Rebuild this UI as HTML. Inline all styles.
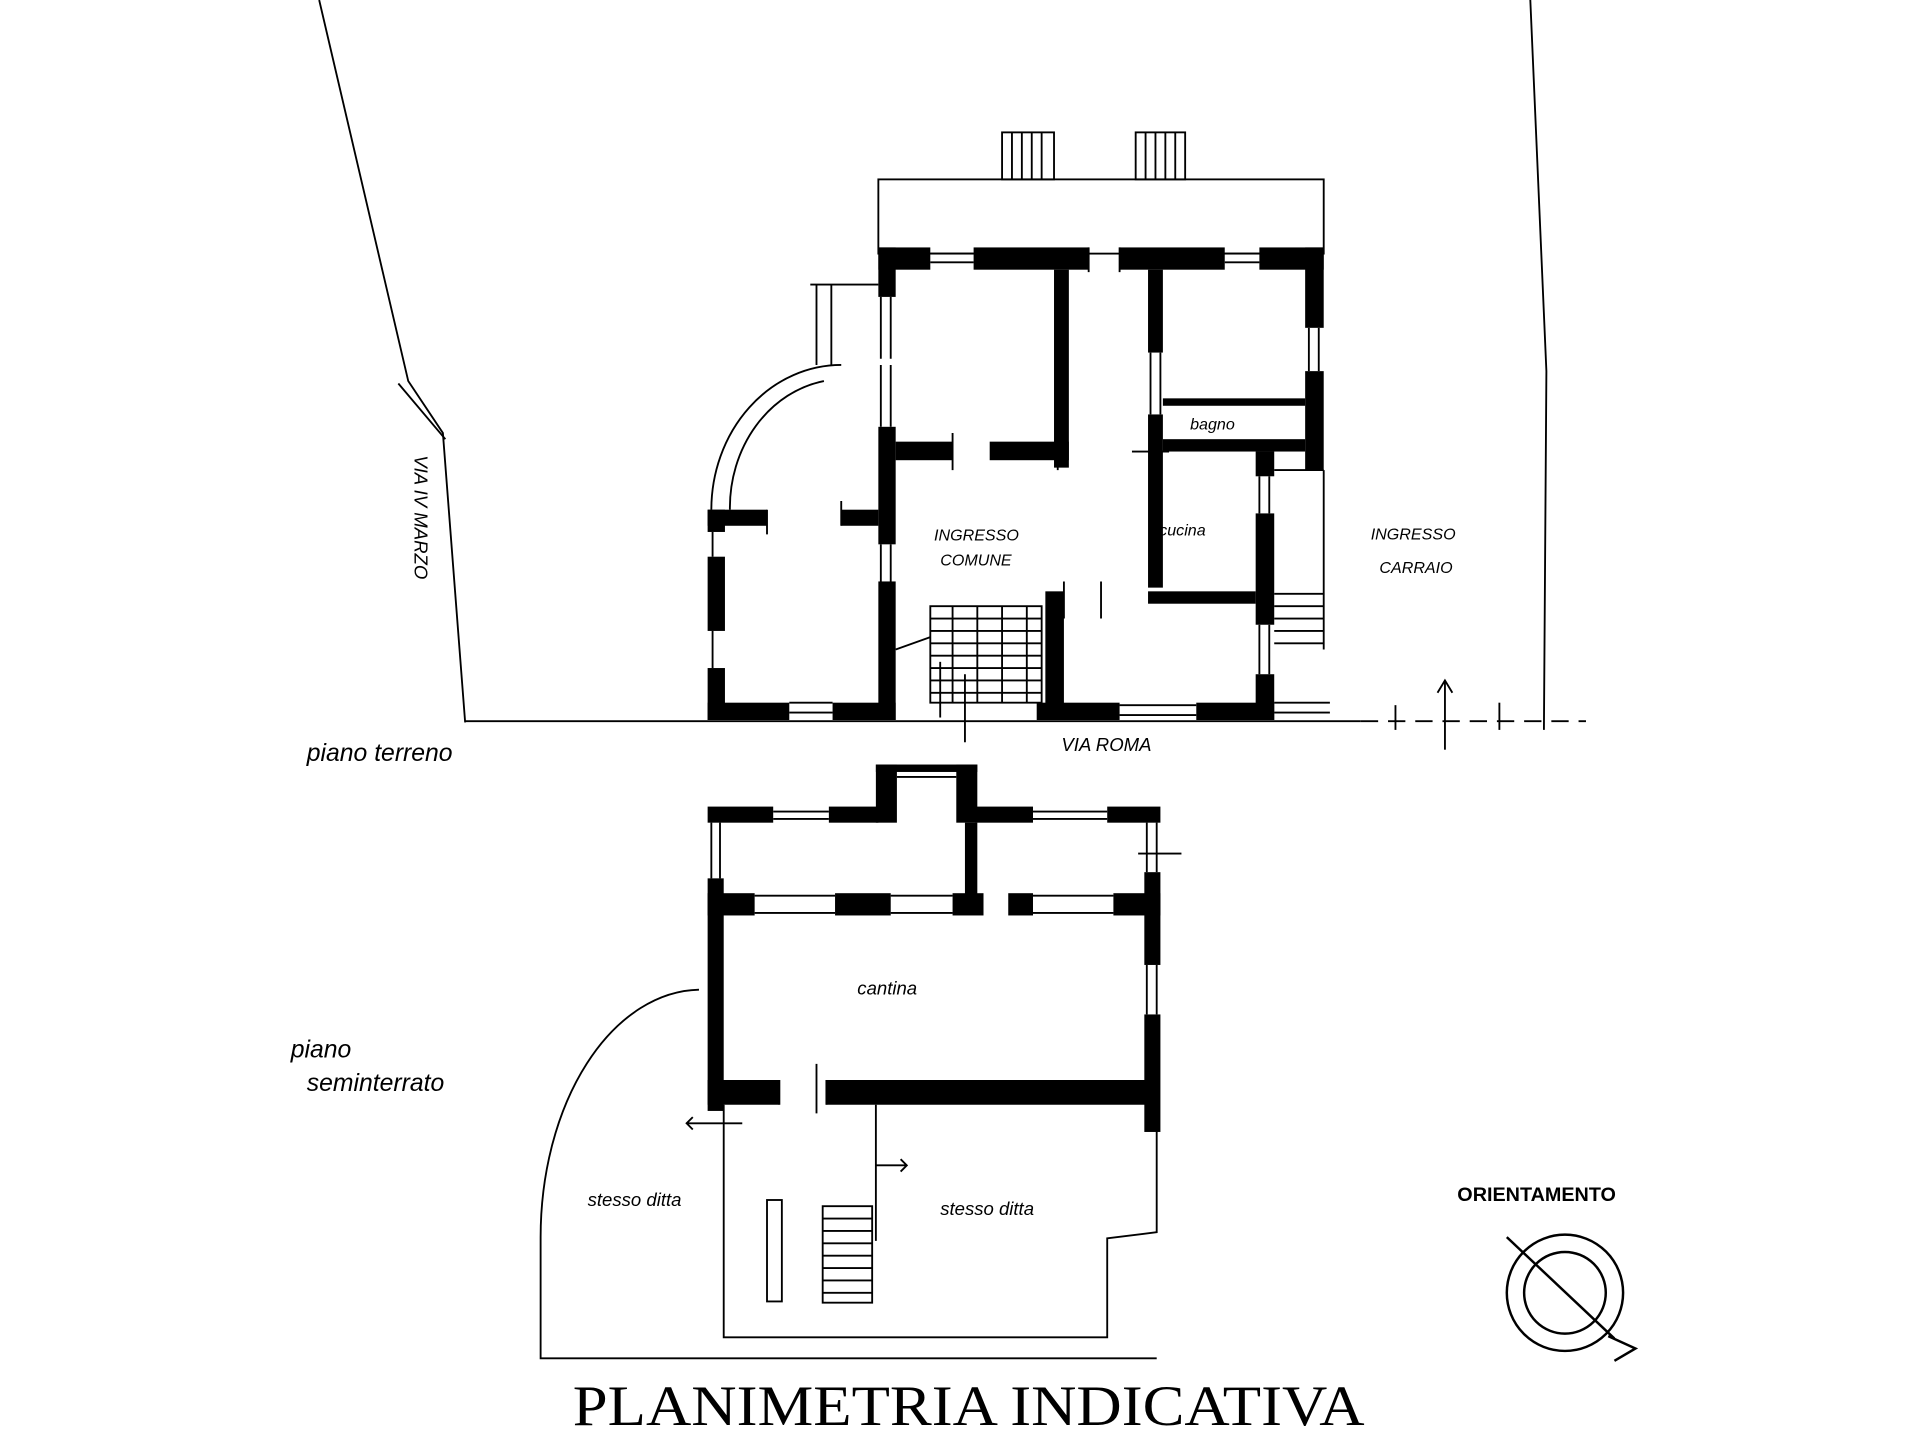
<!DOCTYPE html>
<html><head><meta charset="utf-8"><style>
html,body{margin:0;padding:0;background:#fff}
svg{display:block}
text{font-family:"Liberation Sans",sans-serif;fill:#000}
</style></head><body>
<svg width="1920" height="1440" viewBox="0 0 1552 1164" xmlns="http://www.w3.org/2000/svg">
<rect width="1552" height="1164" fill="#fff"/>
<g stroke="#000" fill="none" stroke-width="1.5">
<polyline points="258,0 330,308 358,350 376,584"/>
<line x1="322" y1="310" x2="360" y2="355"/>
<polyline points="1237,0 1250,300 1248,590"/>
<line x1="376" y1="583" x2="1100" y2="583"/>
<line x1="1100" y1="583" x2="1282" y2="583" stroke-dasharray="14,8"/>
<line x1="1168" y1="550" x2="1168" y2="606"/>
<polyline points="1162,560 1168,550 1174,560"/>
<line x1="780" y1="545" x2="780" y2="600"/>
<line x1="1128" y1="570" x2="1128" y2="590"/>
<line x1="1212" y1="568" x2="1212" y2="590"/>
<rect x="710" y="145" width="360" height="60"/>
<rect x="810" y="107" width="42" height="38"/>
<rect x="918" y="107" width="40" height="38"/>
<path d="M818,107v38M826,107v38M834,107v38M842,107v38M926,107v38M934,107v38M942,107v38M950,107v38"/>
<path d="M680,295 A105,117 0 0 0 575,412"/>
<path d="M666,308 A92,104 0 0 0 590,412"/>
<path d="M655,230h55M660,230v65M672,230v65"/>
<line x1="1070" y1="380" x2="1070" y2="525"/>
<line x1="1030" y1="380" x2="1070" y2="380"/>
<path d="M1030,480h40M1030,490h40M1030,500h40M1030,510h40M1030,520h40"/>
<path d="M1030,568h45M1030,576h45"/>
<rect x="752" y="490" width="90" height="78"/>
<path d="M752,500h90M752,510h90M752,520h90M752,530h90M752,540h90M752,550h90M752,560h90M770,490v78M790,490v78M810,490v78M830,490v78"/>
<line x1="724" y1="525" x2="752" y2="515"/>
<line x1="760" y1="535" x2="760" y2="580"/>
<path d="M752,205h35M752,212h35M990,205h28M990,212h28M880,200v20M905,200v20M638,568h35M638,576h35M905,570h62M905,578h62M712,240v50M720,240v50M712,295v50M720,295v50M712,440v30M720,440v30M576,430v20M576,510v30M620,412v20M680,405v20M1058,265v35M1066,265v35M1018,385v30M1026,385v30M1018,505v40M1026,505v40M770,350v30M855,350v30M930,285v50M938,285v50M915,365h30M860,470v30M890,470v30"/>
</g>
<g fill="#000">
<rect x="710" y="200" width="42" height="18"/><rect x="787" y="200" width="93" height="18"/>
<rect x="905" y="200" width="85" height="18"/><rect x="1018" y="200" width="52" height="18"/>
<rect x="710" y="200" width="14" height="40"/><rect x="710" y="345" width="14" height="95"/><rect x="710" y="470" width="14" height="112"/>
<rect x="1055" y="200" width="15" height="65"/><rect x="1055" y="300" width="15" height="80"/>
<rect x="852" y="218" width="12" height="160"/>
<rect x="724" y="357" width="46" height="15"/><rect x="800" y="357" width="64" height="15"/>
<rect x="928" y="218" width="12" height="67"/><rect x="928" y="335" width="12" height="140"/>
<rect x="940" y="322" width="115" height="6"/><rect x="940" y="355" width="115" height="10"/>
<rect x="1015" y="365" width="15" height="20"/><rect x="1015" y="415" width="15" height="90"/><rect x="1015" y="545" width="15" height="37"/>
<rect x="928" y="478" width="87" height="10"/>
<rect x="845" y="478" width="15" height="104"/>
<rect x="838" y="568" width="67" height="14"/><rect x="967" y="568" width="63" height="14"/>
<rect x="572" y="568" width="66" height="14"/><rect x="673" y="568" width="51" height="14"/>
<rect x="572" y="412" width="14" height="18"/><rect x="572" y="450" width="14" height="60"/><rect x="572" y="540" width="14" height="42"/>
<rect x="572" y="412" width="48" height="13"/><rect x="680" y="412" width="30" height="13"/>
</g>
<g stroke="#000" fill="none" stroke-width="1.5">
<path d="M725,622h48M725,628h48"/>
<path d="M625,656h45M625,662h45M835,656h60M835,662h60"/>
<path d="M610,724h65M610,738h65M720,724h50M720,738h50M835,724h65M835,738h65"/>
<path d="M575,665v45M582,665v45M927,665v40M935,665v40M927,780v40M935,780v40"/>
<path d="M630,873v20M668,873v20M660,860v40"/>
<path d="M565,800 A130,200 0 0 0 437,1000 L437,1098 L935,1098"/>
<path d="M585,893v188h310v-80l40,-5v-115"/>
<path d="M708,893v110"/>
<rect x="620" y="970" width="12" height="82"/>
<rect x="665" y="975" width="40" height="78"/>
<path d="M665,985h40M665,995h40M665,1005h40M665,1015h40M665,1025h40M665,1035h40M665,1045h40"/>
<path d="M555,908h45M560,903l-5,5l5,5M708,942h25M728,937l5,5l-5,5M920,690h35"/>
</g>
<g fill="#000">
<rect x="708" y="618" width="17" height="47"/><rect x="773" y="618" width="17" height="47"/>
<rect x="708" y="618" width="82" height="6"/>
<rect x="572" y="652" width="53" height="13"/><rect x="670" y="652" width="40" height="13"/>
<rect x="788" y="652" width="47" height="13"/><rect x="895" y="652" width="43" height="13"/>
<rect x="780" y="665" width="10" height="60"/>
<rect x="572" y="722" width="38" height="18"/><rect x="675" y="722" width="45" height="18"/>
<rect x="770" y="722" width="25" height="18"/><rect x="815" y="722" width="20" height="18"/><rect x="900" y="722" width="38" height="18"/>
<rect x="572" y="710" width="13" height="188"/>
<rect x="925" y="705" width="13" height="75"/><rect x="925" y="820" width="13" height="95"/>
<rect x="572" y="873" width="58" height="20"/><rect x="668" y="873" width="267" height="20"/>
</g>
<g stroke="#000" fill="none" stroke-width="2">
<circle cx="1265" cy="1045" r="47"/><circle cx="1265" cy="1045" r="33"/>
<line x1="1218" y1="1000" x2="1305" y2="1082"/>
<polyline points="1300,1080 1322,1090 1305,1100"/>
</g>
<g font-size="16" font-style="italic">
<text x="248" y="615" font-size="20">piano terreno</text>
<text x="235" y="855" font-size="20">piano</text>
<text x="248" y="882" font-size="20">seminterrato</text>
<text x="755" y="437" font-size="13">INGRESSO</text>
<text x="760" y="457" font-size="13">COMUNE</text>
<text x="937" y="433" font-size="13">cucina</text>
<text x="962" y="347" font-size="13">bagno</text>
<text x="1108" y="436" font-size="13">INGRESSO</text>
<text x="1115" y="463" font-size="13">CARRAIO</text>
<text x="858" y="607" font-size="15">VIA ROMA</text>
<text x="693" y="804" font-size="15">cantina</text>
<text x="475" y="975" font-size="15">stesso ditta</text>
<text x="760" y="982" font-size="15">stesso ditta</text>
<text transform="translate(335,368) rotate(90)" font-size="15">VIA IV MARZO</text>
</g>
<text x="1178" y="971" font-size="16" font-weight="bold">ORIENTAMENTO</text>
<text x="463" y="1152" font-size="46" textLength="640" lengthAdjust="spacingAndGlyphs" style="font-family:'Liberation Serif',serif">PLANIMETRIA INDICATIVA</text>
</svg>
</body></html>
